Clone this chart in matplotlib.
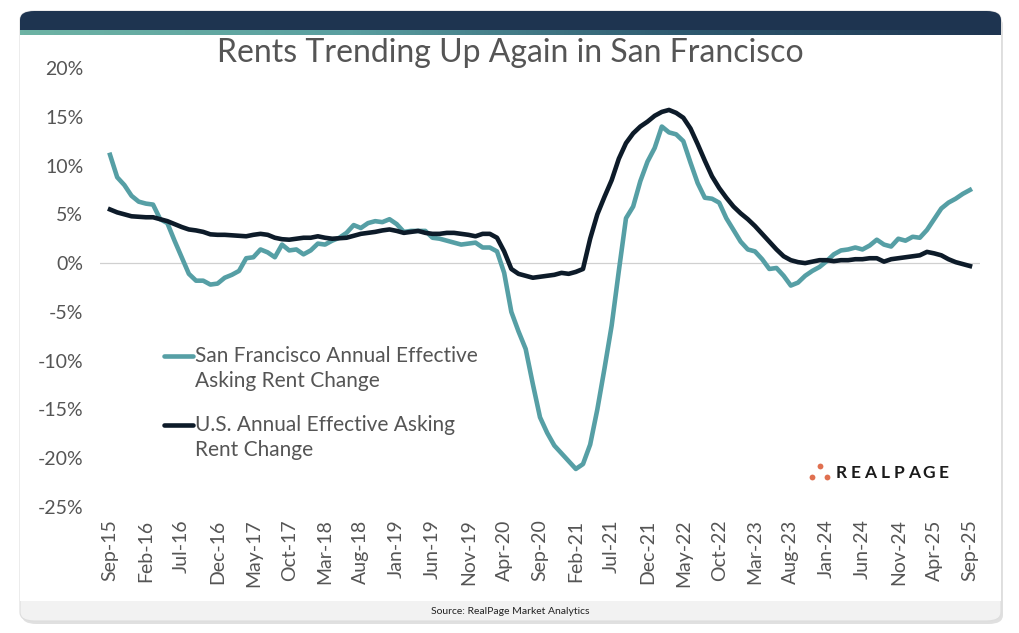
#!/usr/bin/env python3
# San Francisco vs U.S. annual effective asking rent change, monthly Sep-15 .. Sep-25

import matplotlib
matplotlib.use("Agg")
from matplotlib import pyplot as plt
from matplotlib.patches import FancyBboxPatch, Rectangle
from matplotlib.lines import Line2D
from matplotlib.colors import LinearSegmentedColormap
import numpy as np

sfChange = [11.1, 8.8, 8.0, 6.9, 6.3, 6.1, 6.0, 4.5, 4.1, 2.3,
            0.6, -1.1, -1.8, -1.8, -2.2, -2.1, -1.5, -1.2, -0.8, 0.5,
            0.6, 1.4, 1.1, 0.6, 1.9, 1.3, 1.4, 0.9, 1.3, 2.0,
            1.9, 2.3, 2.6, 3.1, 3.9, 3.6, 4.1, 4.3, 4.2, 4.5,
            4.0, 3.2, 3.3, 3.3, 3.3, 2.6, 2.5, 2.3, 2.1, 1.9,
            2.0, 2.1, 1.6, 1.6, 1.2, -1.0, -5.0, -7.0, -8.8, -12.4,
            -15.8, -17.4, -18.7, -19.5, -20.3, -21.1, -20.6, -18.6, -15.0, -10.8,
            -6.4, -0.8, 4.6, 5.8, 8.4, 10.4, 11.8, 14.0, 13.4, 13.2,
            12.5, 10.3, 8.2, 6.7, 6.6, 6.2, 4.6, 3.4, 2.2, 1.4,
            1.2, 0.4, -0.6, -0.5, -1.3, -2.3, -2.0, -1.3, -0.8, -0.4,
            0.2, 0.9, 1.3, 1.4, 1.6, 1.4, 1.8, 2.4, 1.9, 1.7,
            2.5, 2.3, 2.7, 2.6, 3.4, 4.5, 5.6, 6.2, 6.6, 7.1,
            7.5]
usChange = [5.5, 5.2, 5.0, 4.8, 4.75, 4.7, 4.7, 4.5, 4.3, 4.0,
            3.7, 3.45, 3.35, 3.2, 2.95, 2.9, 2.9, 2.85, 2.8, 2.75,
            2.9, 3.0, 2.9, 2.6, 2.45, 2.4, 2.5, 2.6, 2.6, 2.75,
            2.6, 2.5, 2.55, 2.6, 2.8, 3.0, 3.1, 3.2, 3.35, 3.45,
            3.3, 3.1, 3.2, 3.3, 3.1, 3.0, 3.0, 3.1, 3.1, 3.0,
            2.9, 2.75, 3.0, 3.0, 2.6, 1.2, -0.6, -1.1, -1.3, -1.5,
            -1.4, -1.3, -1.2, -1.0, -1.1, -0.9, -0.6, 2.5, 5.0, 6.8,
            8.5, 10.7, 12.3, 13.3, 14.0, 14.5, 15.1, 15.5, 15.7, 15.4,
            14.9, 13.8, 12.2, 10.5, 8.9, 7.7, 6.7, 5.8, 5.1, 4.5,
            3.8, 3.0, 2.2, 1.4, 0.7, 0.3, 0.1, 0.0, 0.15, 0.3,
            0.3, 0.2, 0.3, 0.3, 0.4, 0.4, 0.5, 0.5, 0.15, 0.4,
            0.5, 0.6, 0.7, 0.8, 1.15, 1.0, 0.8, 0.4, 0.1, -0.1,
            -0.3]
tickLabels = ["Sep-15", "Feb-16", "Jul-16", "Dec-16", "May-17", "Oct-17", "Mar-18",
              "Aug-18", "Jan-19", "Jun-19", "Nov-19", "Apr-20", "Sep-20", "Feb-21",
              "Jul-21", "Dec-21", "May-22", "Oct-22", "Mar-23", "Aug-23", "Jan-24",
              "Jun-24", "Nov-24", "Apr-25", "Sep-25"]
yTicks = [20, 15, 10, 5, 0, -5, -10, -15, -20, -25]
sfLabel = ["San Francisco Annual Effective", "Asking Rent Change"]
usLabel = ["U.S. Annual Effective Asking", "Rent Change"]
titleText = "Rents Trending Up Again in San Francisco"
sourceText = "Source: RealPage Market Analytics"

sfColor = "#569fa5"
usColor = "#0d1b29"

plt.rcParams["font.family"] = ["Lato", "DejaVu Sans"]
W, H = 1020, 633
fig = plt.figure(figsize=(W / 100, H / 100), dpi=100, facecolor="white")

def fx(px):
    return px / W

def fy(py):
    return 1 - py / H

# card with shadow, header band and footer
shadow = FancyBboxPatch((fx(22), fy(624)), fx(981), (622 - 14) / H,
                        boxstyle="round,pad=0,rounding_size=0.014", transform=fig.transFigure,
                        facecolor="#cccccc", edgecolor="none", alpha=0.6, zorder=0)
fig.patches.append(shadow)
card = FancyBboxPatch((fx(20), fy(621)), fx(981), (621 - 11) / H,
                      boxstyle="round,pad=0,rounding_size=0.014", transform=fig.transFigure,
                      facecolor="#f2f2f2", edgecolor="#dddddd", linewidth=0.8, zorder=1)
fig.patches.append(card)
header = FancyBboxPatch((fx(20), fy(45)), fx(981), (45 - 11) / H,
                        boxstyle="round,pad=0,rounding_size=0.014", transform=fig.transFigure,
                        facecolor="#1e3450", edgecolor="none", zorder=2)
fig.patches.append(header)
fig.patches.append(Rectangle((fx(20), fy(601)), fx(981), (601 - 35) / H, transform=fig.transFigure,
                             facecolor="white", edgecolor="none", zorder=3))
stripAx = fig.add_axes([fx(20), fy(35), fx(981), 5 / H], zorder=4)
stripCmap = LinearSegmentedColormap.from_list("strip", ["#6db3a4", "#5a9fa0", "#2e5a70", "#1e3450"])
stripAx.imshow(np.linspace(0, 1, 256)[None, :], aspect="auto", cmap=stripCmap)
stripAx.set_axis_off()

ax = fig.add_axes([fx(100), fy(507), fx(880), (507 - 68) / H], zorder=5)
ax.patch.set_alpha(0)
months = np.arange(len(sfChange))
ax.plot(months, sfChange, color=sfColor, linewidth=3.3, solid_joinstyle="round")
ax.plot(months, usChange, color=usColor, linewidth=3.3, solid_joinstyle="round")
ax.axhline(0, color="#d0d0d0", linewidth=0.9, zorder=0)
ax.set_xlim(-1.4, 121.4)
ax.set_ylim(-25, 20)
ax.set_yticks(yTicks)
ax.set_yticklabels([f"{v}%" for v in yTicks])
ax.set_xticks(np.arange(0, len(sfChange), 5))
ax.set_xticklabels(tickLabels, rotation=90)
ax.tick_params(axis="both", length=0, colors="#555555")
ax.tick_params(axis="y", labelsize=14, pad=12)
ax.tick_params(axis="x", labelsize=14, pad=9)
for s in ax.spines.values():
    s.set_visible(False)

# legend, handle next to the first line of each label
for (l1, l2), c, y0 in [(sfLabel, sfColor, 356), (usLabel, usColor, 425)]:
    fig.add_artist(Line2D([fx(164), fx(193)], [fy(y0), fy(y0)], color=c, linewidth=3.3,
                          solid_capstyle="round", zorder=6))
    fig.text(fx(195), fy(y0), l1, ha="left", va="center", fontsize=15, color="#555555", zorder=6)
    fig.text(fx(195), fy(y0 + 25), l2, ha="left", va="center", fontsize=15, color="#555555", zorder=6)

fig.text(0.5, fy(53), titleText, ha="center", va="center", fontsize=23, color="#555555", zorder=6)
fig.text(0.5, fy(611), sourceText, ha="center", va="center", fontsize=7.5, color="#222222", zorder=6)

# RealPage logo
for cx, cy in [(812, 477), (820, 466), (827, 477)]:
    fig.add_artist(Line2D([fx(cx)], [fy(cy)], marker="o", markersize=4.2, color="#e07050",
                          markeredgewidth=0, zorder=6))
for i, ch in enumerate("REALPAGE"):
    fig.text(fx(841 + i * 14.6), fy(473), ch, ha="center", va="center", fontsize=12.5,
             color="#1a1a1a", fontweight="bold", zorder=6)

fig.savefig("out.png", dpi=100, facecolor=fig.get_facecolor())
